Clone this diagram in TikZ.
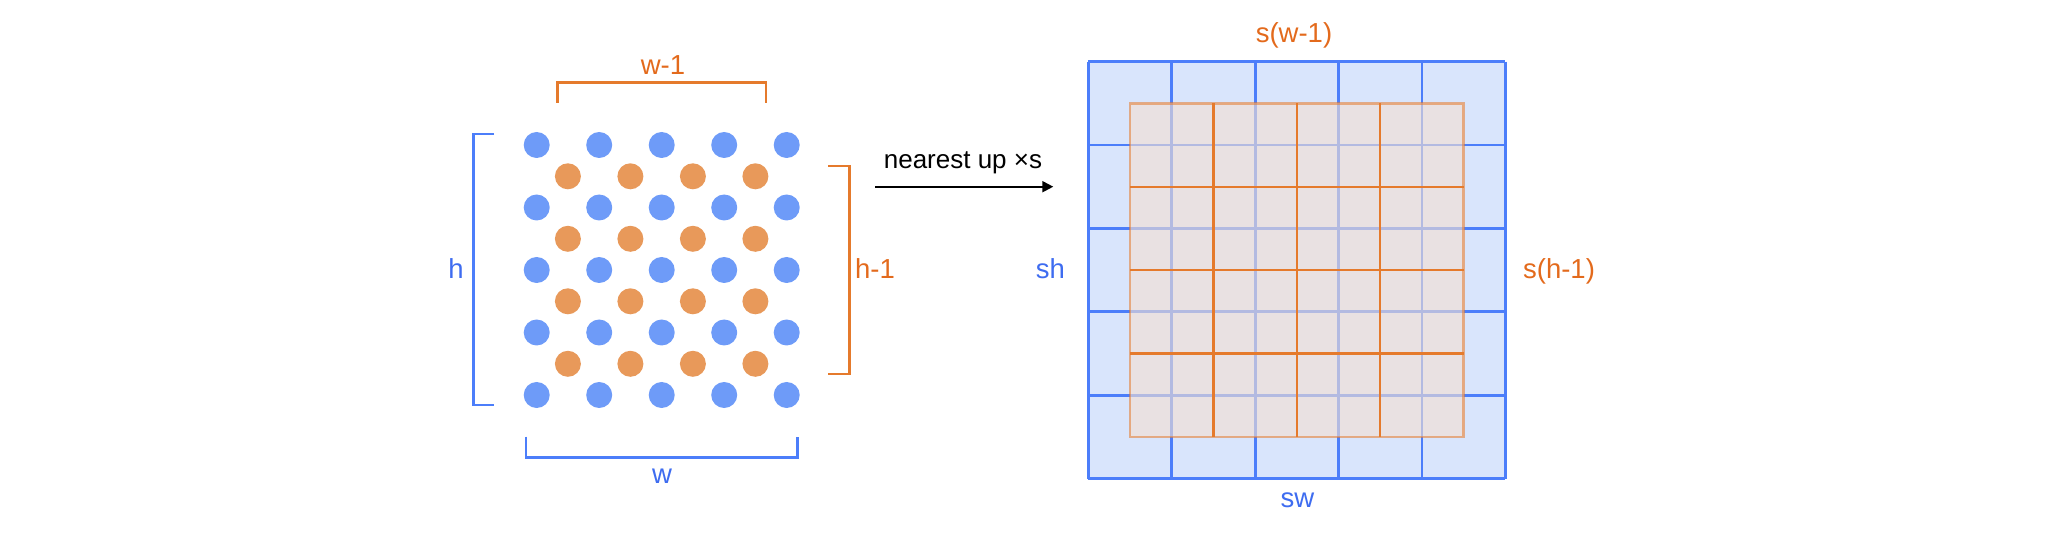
\documentclass[tikz,border=0pt]{standalone}
\usepackage{fontspec}
\setmainfont{Liberation Sans}
\usetikzlibrary{arrows.meta}
\definecolor{bdot}{HTML}{6E9BF8}
\definecolor{odot}{HTML}{E8995A}
\definecolor{bline}{HTML}{4C7EFA}
\definecolor{oline}{HTML}{E57A2C}
\definecolor{btext}{HTML}{3E6CF0}
\definecolor{otext}{HTML}{E36A1C}
\definecolor{bfill}{HTML}{D9E5FC}
\definecolor{ofill}{HTML}{F3E0D3}
\tikzset{
  lbl/.style={font=\fontsize{27.5}{32}\selectfont, inner sep=0pt},
  albl/.style={font=\fontsize{26}{30}\selectfont, inner sep=0pt},
  bbr/.style={draw=bline, line width=2.4pt},
  obr/.style={draw=oline, line width=2.4pt},
}
\begin{document}
\begin{tikzpicture}[x=1pt,y=-1pt]
\path[use as bounding box] (0,0) rectangle (2069,534);
% dots
\foreach \i in {0,...,4}{\foreach \j in {0,...,4}{
  \fill[bdot] ({536.7+62.5*\i},{145+62.5*\j}) circle (13);
}}
\foreach \i in {0,...,3}{\foreach \j in {0,...,3}{
  \fill[odot] ({567.9+62.5*\i},{176.3+62.5*\j}) circle (13);
}}
% brackets
\draw[bbr] (494,134) -- (473.3,134) -- (473.3,405) -- (494,405);
\node[lbl, text=btext] (hl) at (456,269) {h};
\draw[obr] (557.3,102.7) -- (557.3,82.7) -- (766,82.7) -- (766,102.7);
\node[lbl, text=otext] (w1) at (663,65) {w-1};
\draw[obr] (828.3,166) -- (849.3,166) -- (849.3,374) -- (828.3,374);
\node[lbl, text=otext] (h1) at (875,269) {h-1};
\draw[bbr] (526,436.7) -- (526,457.3) -- (797.3,457.3) -- (797.3,436.7);
\node[lbl, text=btext] (wl) at (662,476) {w};
% arrow
\coordinate (as) at (875,186.7);
\coordinate (ae) at (1053.3,186.7);
\draw[line width=2pt, -{Triangle[length=11pt,width=11pt]}] (as) -- (ae);
\node[albl] (al) at (963,163) {nearest up ×s};
% right grid
\def\c{83.4}
\def\X{1088.3}
\def\Y{61.7}
\fill[bfill] (\X,\Y) rectangle ({\X+5*\c},{\Y+5*\c});
\foreach \k in {0,...,5}{
  \draw[bline, line width=2.8pt] ({\X+\k*\c},\Y) -- ({\X+\k*\c},{\Y+5*\c});
  \draw[bline, line width=2.8pt] (\X,{\Y+\k*\c}) -- ({\X+5*\c},{\Y+\k*\c});
}
\fill[ofill, opacity=0.62] ({\X+0.5*\c},{\Y+0.5*\c}) rectangle ({\X+4.5*\c},{\Y+4.5*\c});
\foreach \k in {1,...,3}{
  \draw[oline, line width=2.3pt] ({\X+(0.5+\k)*\c},{\Y+0.5*\c}) -- ({\X+(0.5+\k)*\c},{\Y+4.5*\c});
  \draw[oline, line width=2.3pt] ({\X+0.5*\c},{\Y+(0.5+\k)*\c}) -- ({\X+4.5*\c},{\Y+(0.5+\k)*\c});
}
\draw[oline, opacity=0.55, line width=2.3pt] ({\X+0.5*\c},{\Y+0.5*\c}) rectangle ({\X+4.5*\c},{\Y+4.5*\c});
\node[lbl, text=otext] (sw1) at (1294,35) {s(w-1)};
\node[lbl, text=btext] (swl) at (1297.5,500) {sw};
\node[lbl, text=btext] (shl) at (1050.5,268.5) {sh};
\node[lbl, text=otext] (sh1) at (1559,271.5) {s(h-1)};
\end{tikzpicture}
\end{document}
